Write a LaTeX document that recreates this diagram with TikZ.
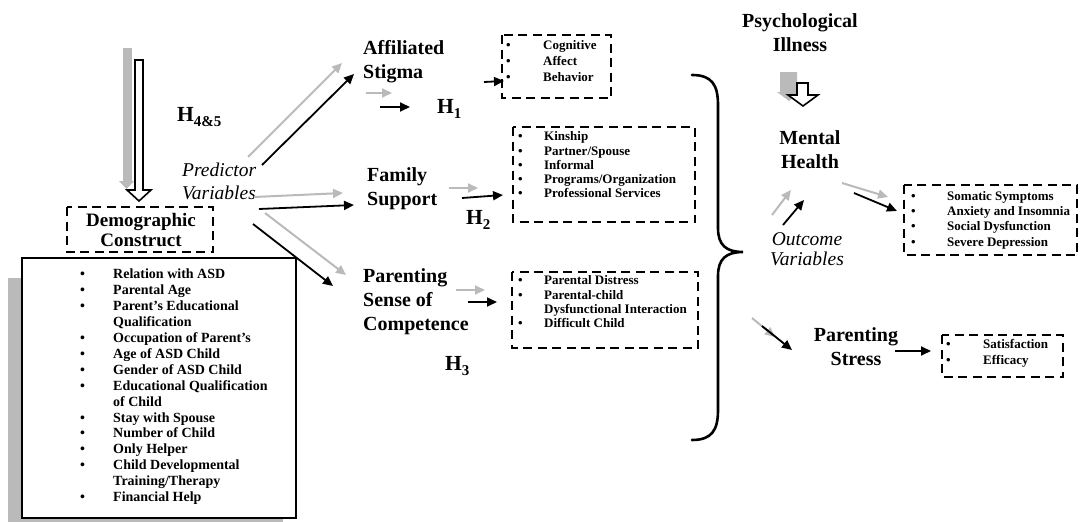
\documentclass[tikz,border=0pt]{standalone}
\usepackage{fontspec}
\setmainfont{Liberation Serif}
\usetikzlibrary{arrows.meta}
\newcommand{\hsub}[2]{H\raisebox{-4.5pt}{\fontsize{#2}{#2}\selectfont #1}}
\begin{document}
\begin{tikzpicture}[x=1pt,y=-1pt,
  lbl/.style={font=\fontsize{20}{24}\selectfont\bfseries, align=left, inner sep=0pt},
  ital/.style={font=\fontsize{19.5}{23}\selectfont\itshape, align=left, inner sep=0pt},
  hyp/.style={font=\fontsize{21.5}{24}\selectfont\bfseries, inner sep=0pt, anchor=west},
  dbox/.style={draw=black, line width=2.3pt, dash pattern=on 9pt off 5.5pt},
  lst/.style={inner sep=0pt, anchor=west},
  barrow/.style={draw=black, line width=1.8pt, -{Triangle[length=10pt,width=9pt]}},
  garrow/.style={draw=black!27, line width=2pt, -{Triangle[length=10pt,width=9pt]}},
]
\useasboundingbox (0,0) rectangle (1080,522);

% ---------- H4&5 block arrows ----------
\fill[black!27] (123,48) rectangle (132,183);
\fill[black!27] (119,181) -- (134,181) -- (126.5,189) -- cycle;
\draw[line width=1.6pt, fill=white] (135,60) -- (143,60) -- (143,190) -- (151,190) -- (139,201) -- (127,190) -- (135,190) -- cycle;
\node[hyp] (h45) at (177,117) {\hsub{4\&5}{15}};

% ---------- Demographic ----------
\node[font=\fontsize{19}{20.5}\selectfont\bfseries, align=center, inner sep=0pt] (demo) at (141,230) {Demographic\\Construct};
\draw[dbox] (67,207) rectangle (213,252);

\fill[black!27] (8,278) rectangle (283,522);
\draw[line width=2.5pt, fill=white] (22,258) rectangle (296,518);
\node[lst, font=\fontsize{14}{15.93}\selectfont\bfseries] (demolist) at (80,387) {%
\begin{tabular}{@{}p{33pt}@{}l@{}}
\textbullet & Relation with ASD\\
\textbullet & Parental Age\\
\textbullet & Parent’s Educational\\
 & Qualification\\
\textbullet & Occupation of Parent’s\\
\textbullet & Age of ASD Child\\
\textbullet & Gender of ASD Child\\
\textbullet & Educational Qualification\\
 & of Child\\
\textbullet & Stay with Spouse\\
\textbullet & Number of  Child\\
\textbullet & Only Helper\\
\textbullet & Child Developmental\\
 & Training/Therapy\\
\textbullet & Financial Help
\end{tabular}};

% ---------- Predictor ----------
\node[ital, anchor=west] (pred) at (182,181) {Predictor\\Variables};

% ---------- Affiliated stigma ----------
\node[lbl, anchor=west] (aff) at (363,62) {Affiliated\\Stigma};
\coordinate (a1s) at (248,157); \coordinate (a1e) at (342,63);
\coordinate (a2s) at (262,165); \coordinate (a2e) at (354,74);
\draw[garrow] (a1s) -- (a1e);
\draw[barrow] (a2s) -- (a2e);
\coordinate (h1gs) at (366,93); \coordinate (h1ge) at (392,93);
\coordinate (h1bs) at (380,107); \coordinate (h1be) at (410,107);
\draw[garrow] (h1gs) -- (h1ge);
\draw[barrow] (h1bs) -- (h1be);
\node[hyp] (h1) at (437,109) {\hsub{1}{15}};
\draw[dbox] (502,35) rectangle (611,98);
\node[lst, font=\fontsize{13}{16}\selectfont\bfseries] (cogl) at (506,62) {%
\begin{tabular}{@{}p{37pt}@{}l@{}}
\textbullet & Cognitive\\
\textbullet & Affect\\
\textbullet & Behavior
\end{tabular}};
\coordinate (cs) at (484,82); \coordinate (ce) at (504,81);
\draw[barrow] (cs) -- (ce);

% ---------- Family support ----------
\node[lbl, anchor=west] (fam) at (367,189) {Family\\Support};
\coordinate (f1s) at (254,197); \coordinate (f1e) at (343,193);
\coordinate (f2s) at (259,209); \coordinate (f2e) at (354,205);
\draw[garrow] (f1s) -- (f1e);
\draw[barrow] (f2s) -- (f2e);
\coordinate (h2gs) at (449,188); \coordinate (h2ge) at (478,188);
\coordinate (h2bs) at (462,198); \coordinate (h2be) at (503,195);
\draw[garrow] (h2gs) -- (h2ge);
\draw[barrow] (h2bs) -- (h2be);
\node[hyp] (h2) at (466,220) {\hsub{2}{15}};
\draw[dbox] (513,127) rectangle (695,222);
\node[lst, font=\fontsize{13}{14.3}\selectfont\bfseries] (faml) at (518,166.5) {%
\begin{tabular}{@{}p{26pt}@{}l@{}}
\textbullet & Kinship\\
\textbullet & Partner/Spouse\\
\textbullet & Informal\\
\textbullet & Programs/Organization\\
\textbullet & Professional Services
\end{tabular}};

% ---------- Parenting sense of competence ----------
\node[lbl, anchor=west] (psc) at (363,302) {Parenting\\Sense of\\Competence};
\coordinate (p1s) at (265,213); \coordinate (p1e) at (346,275);
\coordinate (p2s) at (253,224); \coordinate (p2e) at (333,286);
\draw[garrow] (p1s) -- (p1e);
\draw[barrow] (p2s) -- (p2e);
\coordinate (h3gs) at (456,290); \coordinate (h3ge) at (485,290);
\coordinate (h3bs) at (468,302); \coordinate (h3be) at (497,302);
\draw[garrow] (h3gs) -- (h3ge);
\draw[barrow] (h3bs) -- (h3be);
\node[hyp] (h3) at (445,366) {\hsub{3}{15}};
\draw[dbox] (512,272) rectangle (698,348);
\node[lst, font=\fontsize{13}{14.3}\selectfont\bfseries] (pscl) at (518,303.5) {%
\begin{tabular}{@{}p{26pt}@{}l@{}}
\textbullet & Parental Distress\\
\textbullet & Parental-child\\
 & Dysfunctional Interaction\\
\textbullet & Difficult Child
\end{tabular}};

% ---------- Brace ----------
\draw[line width=2.6pt, line cap=round] (692,75) .. controls (712,75) and (718,85) .. (718,105) -- (718,228)
  .. controls (718,245) and (726,252) .. (743,252) .. controls (726,252) and (718,259) .. (718,276)
  -- (718,410) .. controls (718,430) and (712,440) .. (692,440);

% ---------- Psychological illness / mental health ----------
\node[lbl, align=center] (psy) at (800,33) {Psychological\\Illness};
\fill[black!27] (780,72) -- (797,72) -- (797,92) -- (800,92) -- (789,101) -- (777,92) -- (780,92) -- cycle;
\draw[line width=1.6pt, fill=white] (797,83) -- (808,83) -- (808,95) -- (818,95) -- (803,106) -- (788,95) -- (797,95) -- cycle;
\node[lbl, align=center] (mh) at (810,150) {Mental\\Health};
\node[ital, align=center, font=\fontsize{19.5}{20}\selectfont\itshape] (out) at (807,249) {Outcome\\Variables};
\coordinate (o1s) at (772,215); \coordinate (o1e) at (791,190);
\coordinate (o2s) at (783,225); \coordinate (o2e) at (804,200);
\draw[garrow] (o1s) -- (o1e);
\draw[barrow] (o2s) -- (o2e);
\coordinate (m1s) at (842,183); \coordinate (m1e) at (888,197);
\coordinate (m2s) at (854,193); \coordinate (m2e) at (897,211);
\draw[garrow] (m1s) -- (m1e);
\draw[barrow] (m2s) -- (m2e);
\draw[dbox] (904,185) rectangle (1077,255);
\node[lst, font=\fontsize{13}{15.3}\selectfont\bfseries] (mhl) at (911,220) {%
\begin{tabular}{@{}p{36pt}@{}l@{}}
\textbullet & Somatic Symptoms\\
\textbullet & Anxiety and Insomnia\\
\textbullet & Social Dysfunction\\
\textbullet & Severe Depression
\end{tabular}};

% ---------- Parenting stress ----------
\coordinate (s1s) at (752,318); \coordinate (s1e) at (775,337);
\coordinate (s2s) at (762,326); \coordinate (s2e) at (792,350);
\draw[garrow] (s1s) -- (s1e);
\draw[barrow] (s2s) -- (s2e);
\node[lbl, align=center] (ps) at (856,347) {Parenting\\Stress};
\coordinate (pss) at (895,351); \coordinate (pse) at (931,351);
\draw[barrow] (pss) -- (pse);
\draw[dbox] (942,335) rectangle (1063,377);
\node[lst, font=\fontsize{13}{16}\selectfont\bfseries] (psl) at (946,353) {%
\begin{tabular}{@{}p{37pt}@{}l@{}}
\textbullet & Satisfaction\\
\textbullet & Efficacy
\end{tabular}};
\end{tikzpicture}
\end{document}
